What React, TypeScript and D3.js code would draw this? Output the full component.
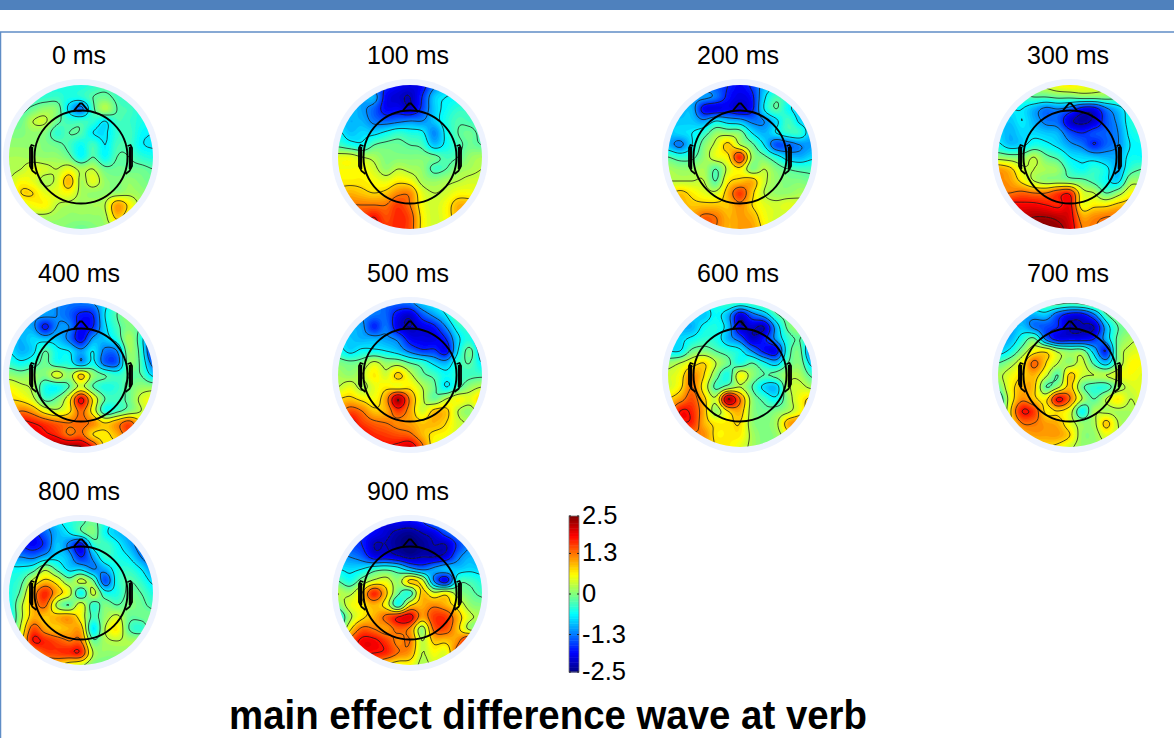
import { useMemo } from "react";
import * as d3 from "d3";

// values in the same units as the colour bar, rows go top to bottom of the head
const MAP_0 = [
  [-.4,-.4,-.4,-.45,-.5,-.5,-.5,-.4,-.3,-.4,-.5,-.5,-.5],
  [-.3,-.3,-.4,-.4,-.35,-.5,-.45,-.2,-.1,-.3,-.45,-.5,-.6],
  [-.2,-.3,-.1,.1,0,-.8,-1.3,-.3,.25,-.2,-.3,-.5,-.6],
  [-.1,-.1,.3,.35,-.1,-.35,-.35,-.4,-.7,-.3,-.35,-.5,-.6],
  [0,0,.1,0,-.4,-.2,-.25,-.7,-.75,-.4,-.3,-.6,-.7],
  [.1,.1,.1,0,-.1,-.3,-.6,-.3,-.7,-.3,-.3,-.65,-.75],
  [.2,.2,.15,.1,.1,-.1,-.6,-.2,-.6,-.2,-.2,-.4,-.5],
  [.2,.3,.5,.4,.3,.5,.2,.3,-.1,-.1,-.1,-.1,-.2],
  [.3,.6,.5,.2,.4,1.0,.2,.5,.1,0,.1,0,-.1],
  [.3,.8,.8,.5,.5,.6,.2,.1,.1,.1,.2,.1,0],
  [.2,.4,.6,.65,.3,.2,.15,.2,.3,1.1,.7,.2,.1],
  [.05,.15,.2,.2,.15,.1,.1,.1,.2,.9,.5,.2,.1],
  [0,0,.05,.05,.05,0,-.1,0,.1,.3,.2,.1,0],
];
const MAP_100 = [
  [-1.2,-1.3,-1.4,-1.5,-1.7,-1.9,-2.0,-1.9,-1.3,-.9,-.8,-.7,-.7],
  [-1.1,-1.1,-1.1,-1.0,-1.9,-2.1,-2.2,-1.7,-.9,-.7,-.65,-.6,-.6],
  [-.9,-.9,-1.1,-1.4,-1.9,-1.9,-2.1,-1.6,-.9,-.6,-.4,-.4,-.4],
  [-.9,-1.0,-1.0,-1.3,-1.4,-1.3,-1.2,-1.2,-.9,-.5,-.25,-.3,-.4],
  [-.6,-.9,-.8,-.8,-.6,-.4,-.5,-.6,-1.2,-.6,-.2,-.1,-.3],
  [-.3,-.5,-.6,-.2,-.1,-.1,-.2,-.3,-.9,-.6,-.3,-.1,-.2],
  [.5,.5,.3,.2,0,0,0,0,-.1,-.3,-.2,.1,.2],
  [.6,.6,.6,.4,.1,.3,.2,.1,-.3,-.2,.1,.2,.3],
  [.7,.7,.7,.6,.5,.7,.6,.2,.1,.2,.3,.4,.4],
  [.9,1.0,.9,.8,.9,1.2,1.2,.5,.3,.4,.6,.6,.5],
  [1.2,1.3,1.3,1.3,1.3,1.6,1.3,.6,.4,.6,1.0,1.0,.9],
  [1.5,1.6,1.6,1.8,1.5,1.7,1.5,.7,.4,.6,1.0,1.1,.9],
  [1.6,1.7,1.8,1.9,1.6,1.7,1.5,.7,.4,.5,.8,.9,.8],
];
const MAP_200 = [
  [-1.2,-1.3,-1.3,-1.4,-1.5,-1.7,-1.9,-1.6,-1.0,-.8,-.7,-.7,-.7],
  [-1.1,-1.1,-1.1,-1.1,-1.3,-1.8,-2.0,-1.8,-.8,-.3,-.5,-.7,-.8],
  [-1,-1,-1.0,-1.9,-2.0,-1.9,-2.1,-1.8,-.7,-.2,-.6,-.9,-1.0],
  [-.9,-.9,-.9,-1.1,-.7,-.9,-1.0,-1.3,-1.2,-.8,-.3,-.8,-1.0],
  [-.9,-.8,-.7,-.4,.1,.1,0,-.7,-1.0,-.7,-.4,-.4,-1.0],
  [-1.0,-1.3,-.7,0,.4,.9,.3,-.1,-.7,-1.5,-1.4,-1.2,-1.1],
  [-.2,-.4,-.3,.1,.5,.7,1.7,.2,-.1,-.5,-.9,-1.0,-.8],
  [.2,.1,.1,.2,-.2,.4,.7,0,.3,0,-.2,-.3,-.3],
  [.3,.3,.3,.3,-.2,.7,.9,1.0,.4,.1,0,0,-.1],
  [.7,.9,.7,.5,.4,1.0,1.6,.9,.3,.1,.1,.2,.2],
  [.9,1.0,.9,.9,.9,.9,1.2,.8,.5,.4,.5,.4,.3],
  [1.0,1.1,1.1,1.4,1.3,1.0,1.1,1.0,.6,.4,.3,.3,.2],
  [1.0,1.1,1.3,1.5,1.3,1.0,1.1,1.1,.7,.3,.3,.2,.2],
];
const MAP_300 = [
  [.1,.1,.15,.2,.4,.6,.7,.6,.5,.4,.3,.2,.1],
  [-.3,-.3,-.3,-.2,-.2,-.1,-.1,0,0,0,-.1,-.1,-.1],
  [-.7,-.7,-.7,-1.0,-1.3,-1.2,-1.4,-1.9,-1.9,-1.3,-.9,-.5,-.4],
  [-.8,-.9,-.7,-1.0,-1.3,-1.4,-2.1,-2.3,-2.1,-1.5,-1.1,-.5,-.4],
  [-.8,-1.0,-.8,-.8,-.9,-1.0,-1.5,-1.7,-1.5,-1.4,-1.2,-.6,-.5],
  [-.6,-.9,-.8,-.5,-.6,-.8,-1.1,-1.3,-1.7,-1.4,-1.2,-.7,-.6],
  [.1,0,0,.3,-.1,-.3,-.7,-.8,-.9,-1.0,-1.0,-.6,-.6],
  [1.1,.9,.4,.3,.2,.1,-.4,-.6,-.4,-.6,-1.0,-.4,-.2],
  [1.2,1.1,.7,.3,.1,.1,0,-.1,-.3,-.6,-.8,.1,.1],
  [1.3,1.3,1.4,1.3,1.3,1.6,1.7,.5,.3,-.2,.1,.6,.8],
  [1.6,1.9,1.9,1.9,1.8,1.7,1.9,.6,.7,.7,.9,1.0,1.2],
  [1.8,2.1,2.2,2.3,2.3,2.2,2.0,1.1,1.2,1.3,1.3,1.2,1.2],
  [1.9,2.2,2.4,2.5,2.5,2.4,2.1,1.3,1.3,1.3,1.2,1.2,1.1],
];
const MAP_400 = [
  [-1.0,-1.0,-1.0,-1.1,-1.2,-1.3,-1.3,-1.2,-.8,-.3,0,.1,.1],
  [-1.1,-1.1,-1.1,-1.1,-1.2,-1.4,-1.8,-1.7,-.7,-.2,.1,.1,.1],
  [-1,-1.0,-1.1,-1.8,-1.2,-1.2,-1.9,-1.7,-.8,-.3,0,-.2,-.6],
  [-.9,-1.0,-.8,-.9,-.9,-1.3,-1.9,-1.1,-.9,-.5,.2,-.5,-1.7],
  [-.7,-1.0,-.8,-.2,-.6,-.7,-1.1,-.7,-1.3,-1.2,.1,-.4,-1.9],
  [-.4,-.6,-.4,-.1,-.5,-.5,-1.1,-.6,-1.4,-1.4,0,-.3,-1.4],
  [.1,0,.1,0,.5,.1,.9,.1,-.2,-.4,-.2,-.2,-.8],
  [.6,.4,.2,-.5,-.6,-.2,.4,-.2,-.5,-.4,-.1,.1,.1],
  [.8,.7,.4,-.3,-.1,.6,1.9,.7,-.2,-.3,-.1,.4,.6],
  [1.0,1.3,1.1,.6,.4,.7,1.4,.6,-.5,-.3,0,.3,.6],
  [1.7,1.9,1.8,1.6,1.4,1.3,1.4,1.2,.8,1.1,1.5,.8,.5],
  [2.0,2.1,2.1,1.9,1.7,1.3,1.4,.8,.7,1.0,1.4,.6,.5],
  [2.2,2.4,2.5,2.5,2.4,2.4,2.3,1.7,.7,.7,.9,.6,.5],
];
const MAP_500 = [
  [-1.0,-1.0,-1.1,-1.2,-1.4,-1.4,-1.3,-.9,-.7,-.5,-.3,-.3,-.3],
  [-1.0,-1.1,-1.2,-1.3,-1.4,-1.9,-2.1,-1.5,-1.1,-.7,-.1,-.1,-.2],
  [-1.0,-1.0,-1.1,-1.7,-1.3,-2.0,-2.2,-2.0,-1.8,-1.2,-.5,-.4,-.9],
  [-.8,-.9,-1.0,-1.0,-1.1,-1.3,-1.9,-2.0,-2.0,-1.7,-.8,-.5,-1.3],
  [-.5,-.8,-.6,-.6,-.7,-.9,-1.3,-1.6,-1.6,-1.9,-.7,-.1,-1.0],
  [0,-.1,0,.4,.1,.1,-.2,-.4,-.8,-1.0,-.4,-.2,-.7],
  [.2,.1,.3,.7,.4,.9,.4,-.1,-.3,-.6,-.4,-.3,-.3],
  [.3,.5,.2,.5,.7,.6,.7,.3,-.1,-.7,-.3,.1,.3],
  [.8,.9,.7,.6,1.1,2.3,1.2,.4,-.1,.3,.6,.5,.9],
  [1.1,1.5,1.3,.9,1.0,1.6,1.1,.4,.9,.9,.3,.1,.7],
  [1.3,1.9,1.6,1.4,1.3,1.2,1.1,.9,1.0,.8,.4,.3,.5],
  [1.4,1.9,1.9,1.7,1.6,1.5,1.4,1.0,.7,.6,.4,.3,.3],
  [1.5,1.9,1.9,1.9,1.8,1.9,2.1,1.4,.6,.4,.3,.2,.2],
];
const MAP_600 = [
  [-.7,-.7,-.7,-.7,-.5,-.3,-.4,-.3,-.1,.1,.4,.4,.4],
  [-.9,-.9,-.8,-.9,-.6,-1.0,-2.0,-1.4,-1.0,-.3,0,.1,.1],
  [-.9,-1.0,-1.0,-.6,-.5,-.9,-2.1,-2.1,-2.2,-1.0,-.1,.1,-.3],
  [-.8,-.8,-.6,-.4,-.5,-1.0,-1.4,-2.1,-1.8,-1.1,-.4,-.2,-.9],
  [-.7,-.7,-.1,0,-.2,-.4,-.6,-1.2,-1.8,-1.9,-.4,-.1,-1.5],
  [.1,.3,.6,.8,.3,-.1,-.5,-.2,-.6,-.9,-.2,0,-.9],
  [.4,.6,1.2,.8,0,-.5,.6,.1,-.2,-.1,.2,.2,-.3],
  [.4,.7,1.3,.6,-.3,0,.3,-.2,-.8,-.9,.2,.4,.2],
  [.8,1.1,1.5,.9,.4,2.3,1.3,.1,-.3,-.6,.1,.6,.9],
  [1.0,1.8,1.7,1.0,.1,.8,1.0,.1,-.1,0,.2,.6,1.1],
  [1.1,1.7,1.7,1.0,.7,.7,.8,.1,0,.2,1.0,1.2,1.0],
  [.9,1.1,1.2,1.2,.7,.7,.7,.2,0,.1,.6,1.0,.8],
  [.6,.8,1.0,1.0,.8,.7,.5,.2,0,0,.2,.3,.3],
];
const MAP_700 = [
  [-.5,-.5,-.4,-.3,-.1,-.1,-.2,-.1,.1,.4,1.0,.6,.3],
  [-.9,-.9,-1.0,-1.0,-.9,-1.5,-1.9,-1.9,-1.3,-.3,.2,.2,.1],
  [-1.0,-1.1,-.9,-1.3,-1.5,-1.7,-2.2,-2.2,-2.2,-1.0,-.2,0,0],
  [-1.0,-1.0,-.5,-.1,-1.3,-1.9,-1.9,-1.9,-1.7,-1.0,-.1,.2,.3],
  [-.9,-.6,0,.6,.7,.2,0,0,-.9,-1.7,0,.4,.5],
  [-.2,.1,.6,1.4,.8,.3,.1,.4,-.3,-.9,0,.6,.6],
  [.2,.5,.8,1.0,.4,-.2,.9,.4,.3,.3,.5,.6,.5],
  [-.1,.6,1.0,.9,-.2,.2,.9,-.1,-.4,-.4,.1,.4,.5],
  [-.6,.5,1.2,.9,.7,1.9,1.3,.3,-.2,.3,.7,.3,.5],
  [-.7,.7,1.8,1.6,.7,.8,.5,-.6,.2,.2,.2,.2,.3],
  [-.3,.6,1.3,1.3,1.1,1.0,.5,.1,.2,.9,.3,.1,.1],
  [0,.4,.9,1.1,1.1,1.1,.8,.1,.1,.5,.3,.1,0],
  [.1,.3,.5,.7,.8,.7,.4,.1,.1,.2,.1,0,0],
];
const MAP_800 = [
  [-1.2,-1.3,-1.4,-1.2,-.8,-.5,-.3,-.1,-.5,-.8,-1.0,-1.1,-1.2],
  [-1.5,-1.6,-1.8,-1.4,-1.0,-.7,-.3,0,-.6,-.9,-1.1,-1.3,-1.4],
  [-1.6,-1.7,-1.9,-1.6,-.9,-1.3,-1.9,-.5,-.3,-.6,-1.0,-1.4,-1.6],
  [-1.2,-1.2,-1.3,-1.0,-.8,-1.0,-1.7,-1.1,-.4,-.5,-.7,-1.2,-1.6],
  [-.6,-.6,-.4,.2,-.3,-.8,-.8,-1.2,-1.0,-.5,-.4,-.7,-1.2],
  [-.5,-.3,.4,.9,.6,0,.4,-.1,-1.5,-.5,-.2,-.4,-.8],
  [-.5,-.1,1.0,1.7,1.0,.5,-.6,.4,-.5,-.5,-.1,-.2,-.5],
  [-.6,.2,1.0,1.4,.2,-.2,.5,-.4,0,-.2,0,-.1,-.3],
  [-.7,.2,1.0,.9,1.0,1.1,.6,-.3,.1,.4,-.1,-.1,0],
  [-.6,.4,1.5,1.1,.9,1.0,1.0,-.7,.3,.7,-.2,-.4,.1],
  [-.3,.6,1.8,1.7,1.5,1.3,1.3,-.1,.2,.3,.2,.2,.2],
  [.1,.4,1.0,1.5,1.6,1.7,1.7,.3,.1,.1,.1,.1,.1],
  [.1,.2,.5,.8,.9,.6,.4,0,-.1,-.1,0,0,0],
];
const MAP_900 = [
  [-1.3,-1.4,-1.6,-1.8,-2.0,-1.9,-1.9,-1.7,-1.2,-.9,-.8,-.7,-.7],
  [-1.4,-1.5,-1.7,-1.9,-2.1,-2.3,-2.4,-2.2,-2.0,-1.5,-1.2,-1.0,-1.0],
  [-1.3,-1.5,-1.7,-2.2,-2.2,-2.4,-2.5,-2.4,-2.2,-2.2,-1.6,-1.2,-1.1],
  [-1.1,-1.2,-1.4,-1.9,-1.9,-2.1,-2.3,-2.2,-2.2,-2.0,-1.3,-1.0,-1.2],
  [-.7,-.8,-.7,-.4,-.3,-.5,-1.0,-1.3,-1.1,-.9,-.9,-.8,-.9],
  [-.2,-.5,0,.4,.5,.1,.9,.5,-1.2,-1.9,-.4,-.3,-.5],
  [.3,.2,.8,1.7,.9,-.1,-.4,.9,.4,.6,.1,-.1,-.3],
  [0,.5,.7,1.0,.6,-.5,.7,1.0,1.2,1.0,.6,.1,0],
  [-.7,.2,.7,1.0,1.4,1.8,2.0,1.1,1.6,1.6,1.0,.4,.2],
  [-.4,.7,1.4,1.3,1.1,1.4,1.2,.1,1.4,1.5,.9,.2,.1],
  [.5,1.4,1.9,1.9,1.6,1.2,1.3,.3,.9,.9,1.2,2.0,2.0],
  [.5,1.3,1.8,1.8,1.7,1.3,1.1,.3,.6,.5,1.5,2.0,2.2],
  [.4,1.0,1.3,1.2,.8,.6,.6,.2,.4,.5,1.0,1.5,1.7],
];

const MAPS = [MAP_0, MAP_100, MAP_200, MAP_300, MAP_400, MAP_500, MAP_600, MAP_700, MAP_800, MAP_900];
const LATENCIES = ["0 ms", "100 ms", "200 ms", "300 ms", "400 ms", "500 ms", "600 ms", "700 ms", "800 ms", "900 ms"];
const COLORBAR_TICKS = [2.5, 1.3, 0, -1.3, -2.5];
const JET_STOPS = [-2.5, -1.875, -0.625, 0.625, 1.875, 2.5];
const JET_COLORS = ["#00007f", "#0000ff", "#00ffff", "#ffff00", "#ff0000", "#7f0000"];
const TITLE = "main effect difference wave at verb";

const WIDTH = 1174;
const HEIGHT = 738;
const COL_X = [81, 410, 740, 1070];
const ROW_Y = [157, 375, 593];
const DISK_R = 72;
const HEAD_R = 46.5;
const UPSAMPLE = 6;

const color = d3.scaleLinear<string>().domain(JET_STOPS).range(JET_COLORS).clamp(true);
const barY = d3.scaleLinear().domain([-2.5, 2.5]).range([672, 516]);

// colour bands and the contour levels drawn on top
const FILL_LEVELS = d3.range(-3, 2.6, 0.08);
const LINE_LEVELS = d3.range(-2.2, 2.4, 0.5);

const cubic = (p0: number, p1: number, p2: number, p3: number, t: number) =>
  0.5 * (2 * p1 + (p2 - p0) * t + (2 * p0 - 5 * p1 + 4 * p2 - p3) * t * t + (3 * p1 - p0 - 3 * p2 + p3) * t * t * t);

// catmull-rom upsample so the contours are not blocky
function upsample(grid: number[][]) {
  const n = grid.length;
  const size = (n - 1) * UPSAMPLE + 1;
  const at = (r: number, c: number) => grid[Math.max(0, Math.min(n - 1, r))][Math.max(0, Math.min(n - 1, c))];
  const out: number[] = [];
  for (let j = 0; j < size; j++) {
    const r = Math.min(Math.floor(j / UPSAMPLE), n - 2);
    const v = j / UPSAMPLE - r;
    for (let i = 0; i < size; i++) {
      const c = Math.min(Math.floor(i / UPSAMPLE), n - 2);
      const u = i / UPSAMPLE - c;
      const rows = [-1, 0, 1, 2].map((d) => cubic(at(r + d, c - 1), at(r + d, c), at(r + d, c + 1), at(r + d, c + 2), u));
      out.push(cubic(rows[0], rows[1], rows[2], rows[3], v));
    }
  }
  return { values: out, size };
}

function Topo({ grid, label, cx, cy, id }: { grid: number[][]; label: string; cx: number; cy: number; id: string }) {
  const { bands, lines } = useMemo(() => {
    const { values, size } = upsample(grid);
    const k = (2 * DISK_R) / (size - 1);
    const path = d3.geoPath(d3.geoTransform({
      point(x, y) {
        this.stream.point(-DISK_R + (x - 0.5) * k, -DISK_R + (y - 0.5) * k);
      },
    }));
    const contours = d3.contours().size([size, size]);
    return {
      bands: FILL_LEVELS.map((t) => ({ t, d: path(contours.contour(values, t)) || "" })),
      lines: LINE_LEVELS.map((t) => ({ t, d: path(contours.contour(values, t)) || "" })),
    };
  }, [grid]);

  const earL = `M${-HEAD_R},-11 L${-HEAD_R - 3},-12 L${-HEAD_R - 4.5},-9 L${-HEAD_R - 4.5},9 L${-HEAD_R - 2},14 L${-HEAD_R + 2},17`;
  const earR = `M${HEAD_R},-11 L${HEAD_R + 3},-12 L${HEAD_R + 4.5},-9 L${HEAD_R + 4.5},9 L${HEAD_R + 2},14 L${HEAD_R - 2},17`;

  return (
    <g transform={`translate(${cx},${cy})`}>
      <text x={-2} y={-93} textAnchor="middle" fontSize={25} fontFamily="'Liberation Sans'" fill="#000">{label}</text>
      <circle r={DISK_R + 6} fill="#eef3fe" />
      <clipPath id={id}><circle r={DISK_R} /></clipPath>
      <g clipPath={`url(#${id})`} filter="url(#soften)">
        <circle r={DISK_R} fill="#00007f" />
        {bands.map((b) => <path key={b.t} d={b.d} fill={color(b.t + 0.04)} stroke="none" />)}
        {lines.map((l) => <path key={l.t} d={l.d} fill="none" stroke="#1a1a1a" strokeOpacity={0.85} strokeWidth={0.9} />)}
      </g>
      <circle r={HEAD_R} fill="none" stroke="#000" strokeWidth={1.9} />
      <path d={`M${-7},${-HEAD_R} L-1,${-HEAD_R - 7} L1,${-HEAD_R - 7} L7,${-HEAD_R}`} fill="none" stroke="#000" strokeWidth={1.9} />
      <path d={earL} fill="none" stroke="#000" strokeWidth={1.8} />
      <path d={earR} fill="none" stroke="#000" strokeWidth={1.8} />
      <line x1={-HEAD_R - 2.5} x2={-HEAD_R - 2.5} y1={-10} y2={12} stroke="#000" strokeWidth={2.4} />
      <line x1={HEAD_R + 2.5} x2={HEAD_R + 2.5} y1={-10} y2={12} stroke="#000" strokeWidth={2.4} />
    </g>
  );
}

export default function App() {
  const barSteps = d3.range(-2.5, 2.5, 5 / 64);

  return (
    <svg width={WIDTH} height={HEIGHT} style={{ position: "absolute", left: 0, top: 0 }}>
      <defs>
        <filter id="soften" x="-5%" y="-5%" width="110%" height="110%">
          <feGaussianBlur stdDeviation={0.4} />
        </filter>
      </defs>
      <rect width={WIDTH} height={HEIGHT} fill="#fff" />
      <rect width={WIDTH} height={10} fill="#4f81bd" />
      <line x1={0} x2={WIDTH} y1={32} y2={32} stroke="#5f8dc6" strokeWidth={1.5} />
      <line x1={0.5} x2={0.5} y1={32} y2={HEIGHT} stroke="#5f8dc6" strokeWidth={1.5} />

      {MAPS.map((grid, i) => (
        <Topo
          key={LATENCIES[i]}
          id={`disk${i}`}
          grid={grid}
          label={LATENCIES[i]}
          cx={COL_X[i % 4]}
          cy={ROW_Y[Math.floor(i / 4)]}
        />
      ))}

      <g>
        {barSteps.map((v) => (
          <rect
            key={v}
            x={569}
            width={10}
            y={barY(v + 5 / 64)}
            height={barY(v) - barY(v + 5 / 64) + 0.5}
            fill={color(v + 5 / 128)}
          />
        ))}
        <rect x={569} y={barY(2.5)} width={10} height={barY(-2.5) - barY(2.5)} fill="none" stroke="#777" strokeWidth={0.8} />
        {COLORBAR_TICKS.map((t) => (
          <g key={t}>
            <line x1={569} x2={571} y1={barY(t)} y2={barY(t)} stroke="#222" />
            <line x1={577} x2={579} y1={barY(t)} y2={barY(t)} stroke="#222" />
            <text x={582} y={barY(t) + 8} fontSize={25.5} fontFamily="'Liberation Sans'" fill="#000">{t}</text>
          </g>
        ))}
      </g>

      <text
        x={229}
        y={729}
        fontSize={41}
        fontWeight="bold"
        fontFamily="'Liberation Sans'"
        textLength={638}
        lengthAdjust="spacingAndGlyphs"
        fill="#000"
      >
        {TITLE}
      </text>
    </svg>
  );
}
